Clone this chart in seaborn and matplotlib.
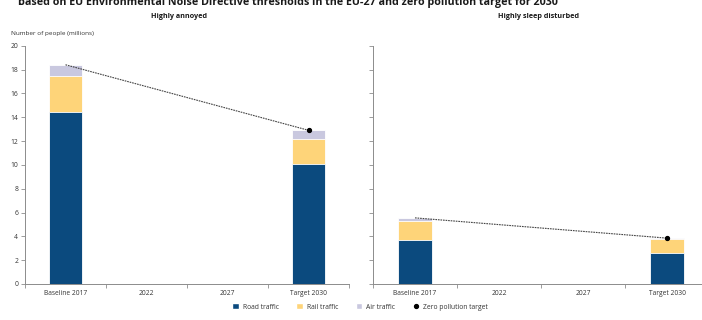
import numpy as np
import pandas as pd
import seaborn as sns
import matplotlib.pyplot as plt
from matplotlib.patches import Patch
from matplotlib.lines import Line2D
from matplotlib.ticker import FixedLocator

PERIODS = ["Baseline 2017", "2022", "2027", "Target 2030"]
BAR_PERIODS = ["Baseline 2017", "Target 2030"]

# millions of people
ANNOYED_ROAD = [14.4, 10.1]
ANNOYED_RAIL = [3.05, 2.1]
ANNOYED_AIR = [0.95, 0.7]

SLEEP_ROAD = [3.7, 2.6]
SLEEP_RAIL = [1.6, 1.15]
SLEEP_AIR = [0.25, 0.1]

ROAD_COL = "#0b4a7e"
RAIL_COL = "#fed479"
AIR_COL = "#c9c8df"
AXIS_COL = "#8c8c8c"

sns.set_theme(style="white")
plt.rcParams["font.family"] = ["Open Sans", "DejaVu Sans"]

fig = plt.figure(figsize=(7.02, 3.2), dpi=100)
ax1 = fig.add_axes([25 / 702, 36 / 320, 324 / 702, 238.3 / 320])
ax2 = fig.add_axes([373 / 702, 36 / 320, 336 / 702, 238.3 / 320])


def draw_panel(ax, road, rail, air):
    df = pd.DataFrame({"period": BAR_PERIODS, "road": road, "rail": rail, "air": air})
    df["road_rail"] = df["road"] + df["rail"]
    df["total"] = df["road_rail"] + df["air"]
    # classic overlap trick: tallest stack first
    for col, c in [("total", AIR_COL), ("road_rail", RAIL_COL), ("road", ROAD_COL)]:
        sns.barplot(data=df, x="period", y=col, order=PERIODS, color=c, width=0.4,
                    edgecolor="white", linewidth=0.6, saturation=1, ax=ax)
    xs = [PERIODS.index(p) for p in BAR_PERIODS]
    ax.plot(xs, df["total"], ls=(0, (1.5, 0.8)), lw=0.8, color="#444444",
            marker="o", ms=2.8, mfc="black", mec="black", markevery=[1], zorder=5)

    ax.set_xlim(-0.5, 3.5)
    ax.set_ylim(0, 20)
    ax.set_xlabel("")
    ax.set_ylabel("")
    ax.set_yticks(np.arange(0, 21, 2))
    ax.xaxis.set_minor_locator(FixedLocator(np.arange(-0.5, 3.6, 1)))
    ax.tick_params(axis="x", which="major", length=0, labelsize=4.8, pad=4, labelcolor="#333333")
    ax.tick_params(axis="x", which="minor", length=3, width=0.6, color=AXIS_COL, direction="out", bottom=True)
    ax.tick_params(axis="y", length=3, width=0.6, color=AXIS_COL, direction="out", left=True,
                   labelsize=4.9, pad=2, labelcolor="#333333")
    for s in ["top", "right"]:
        ax.spines[s].set_visible(False)
    for s in ["left", "bottom"]:
        ax.spines[s].set_color(AXIS_COL)
        ax.spines[s].set_linewidth(0.7)


draw_panel(ax1, ANNOYED_ROAD, ANNOYED_RAIL, ANNOYED_AIR)
draw_panel(ax2, SLEEP_ROAD, SLEEP_RAIL, SLEEP_AIR)
ax2.set_yticklabels([])

fig.text(18 / 702, 1 - 4.5 / 320,
         "based on EU Environmental Noise Directive thresholds in the EU-27 and zero pollution target for 2030",
         fontsize=7.75, fontweight="bold", va="baseline", ha="left", color="#1a1a1a")
fig.text(179 / 702, 1 - 16 / 320, "Highly annoyed", fontsize=5.2, fontweight="bold",
         ha="center", va="center", color="#1a1a1a")
fig.text(538 / 702, 1 - 16 / 320, "Highly sleep disturbed", fontsize=5.2, fontweight="bold",
         ha="center", va="center", color="#1a1a1a")
fig.text(11 / 702, 1 - 34 / 320, "Number of people (millions)", fontsize=4.6,
         ha="left", va="center", color="#333333")

handles = [
    Patch(facecolor=ROAD_COL, label="Road traffic"),
    Patch(facecolor=RAIL_COL, label="Rail traffic"),
    Patch(facecolor=AIR_COL, label="Air traffic"),
    Line2D([], [], ls="none", marker="o", ms=2.8, color="black", label="Zero pollution target"),
]
fig.legend(handles=handles, loc="center", bbox_to_anchor=(360 / 702, 1 - 307 / 320), ncol=4,
           frameon=False, fontsize=4.9, handlelength=0.9, handleheight=0.9,
           columnspacing=2.6, handletextpad=0.6, labelcolor="#333333")

fig.savefig("out.png", dpi=100)
